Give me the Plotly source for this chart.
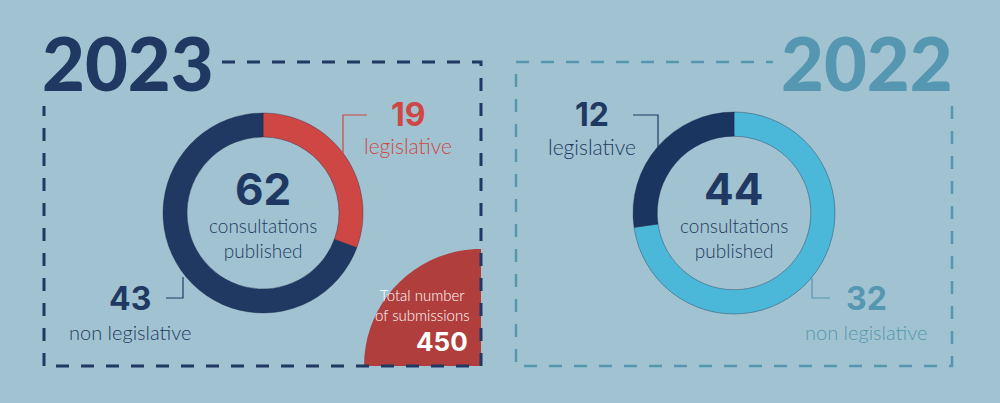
import plotly.graph_objects as go

# ---- data ----
years = ["2023", "2022"]
labels_2023 = ["legislative", "non legislative"]
values_2023 = [19, 43]
labels_2022 = ["non legislative", "legislative"]
values_2022 = [32, 12]
total_2023 = 62
total_2022 = 44
submissions_2023 = 450

# ---- style ----
BG = "#a1c3d1"
NAVY = "#1f3963"
RED = "#cf4745"
RED_DARK = "#b03e3c"
CYAN = "#4cb8d9"
STEEL = "#5596b1"
W, H = 1000, 403

fig = go.Figure()

def dom(cx, cy, r):
    return dict(x=[(cx - r) / W, (cx + r) / W], y=[(H - cy - r) / H, (H - cy + r) / H])

fig.add_trace(go.Pie(labels=labels_2023, values=values_2023, hole=0.76, sort=False,
                     direction="clockwise", rotation=0, textinfo="none", hoverinfo="label+value",
                     marker=dict(colors=[RED, NAVY], line=dict(color="rgba(20,30,60,0.35)", width=1)),
                     domain=dom(263, 213, 100), showlegend=False))
fig.add_trace(go.Pie(labels=labels_2022, values=values_2022, hole=0.76, sort=False,
                     direction="clockwise", rotation=0, textinfo="none", hoverinfo="label+value",
                     marker=dict(colors=[CYAN, "#1a3560"], line=dict(color="rgba(20,30,60,0.35)", width=1)),
                     domain=dom(734, 213, 101), showlegend=False))

shapes = []
# red quarter circle (submissions)
k = 0.5523
cx, cy, r = 481, 366, 117
shapes.append(dict(type="path", xref="x", yref="y", layer="below",
                   path=f"M {cx} {cy} L {cx-r} {cy} C {cx-r} {cy-k*r} {cx-k*r} {cy-r} {cx} {cy-r} Z",
                   fillcolor=RED_DARK, line=dict(width=0)))
# dashed frames
shapes.append(dict(type="path", xref="x", yref="y",
                   path="M 222 62 L 481 62 L 481 366 L 44 366 L 44 106",
                   line=dict(color=NAVY, width=3, dash="13px,12px")))
shapes.append(dict(type="path", xref="x", yref="y",
                   path="M 952 106 L 952 366 L 516 366 L 516 62 L 773 62",
                   line=dict(color=STEEL, width=2.5, dash="13px,12px")))
# connectors
shapes.append(dict(type="path", xref="x", yref="y", path="M 367 115 L 343 115 L 343 154",
                   line=dict(color=RED, width=1.2)))
shapes.append(dict(type="path", xref="x", yref="y", path="M 166 298 L 183 298 L 183 277",
                   line=dict(color=NAVY, width=1.2)))
shapes.append(dict(type="path", xref="x", yref="y", path="M 633 115 L 658 115 L 658 147",
                   line=dict(color=NAVY, width=1.2)))
shapes.append(dict(type="path", xref="x", yref="y", path="M 812 278 L 812 298 L 830 298",
                   line=dict(color=STEEL, width=1.2)))

BOLD = "Inter"
LIGHT = "Lato"

def ann(x, y, text, size, color, family, weight, xanchor="center"):
    return dict(x=x, y=y, xref="x", yref="y", text=text, showarrow=False,
                xanchor=xanchor, yanchor="middle",
                font=dict(size=size, color=color, family=family, weight=weight))

annotations = [
    ann(40, 62, years[0], 74, NAVY, "Lato", 900, "left"),
    ann(955, 62, years[1], 74, STEEL, "Lato", 900, "right"),
    # 2023 donut
    ann(263, 189, str(total_2023), 44, NAVY, BOLD, 700),
    ann(263, 238, "consultations<br>published", 19, NAVY, LIGHT, 300),
    ann(408, 114, str(values_2023[0]), 32, RED, BOLD, 700),
    ann(408, 145, labels_2023[0], 21, RED, LIGHT, 300),
    ann(130, 298, str(values_2023[1]), 32, NAVY, BOLD, 700),
    ann(130, 332, labels_2023[1], 20, NAVY, LIGHT, 300),
    ann(472, 305, "Total number<br>of submissions", 15, "white", LIGHT, 300, "right"),
    ann(470, 341, str(submissions_2023), 26, "white", BOLD, 700, "right"),
    # 2022 donut
    ann(734, 189, str(total_2022), 44, NAVY, BOLD, 700),
    ann(734, 238, "consultations<br>published", 19, NAVY, LIGHT, 300),
    ann(592, 114, str(values_2022[1]), 32, NAVY, BOLD, 700),
    ann(592, 146, labels_2022[1], 21, NAVY, LIGHT, 300),
    ann(866, 298, str(values_2022[0]), 32, STEEL, BOLD, 700),
    ann(866, 332, labels_2022[0], 20, STEEL, LIGHT, 300),
]

fig.update_layout(
    width=W, height=H, margin=dict(l=0, r=0, t=0, b=0),
    paper_bgcolor=BG, plot_bgcolor=BG,
    xaxis=dict(range=[0, W], visible=False, fixedrange=True),
    yaxis=dict(range=[H, 0], visible=False, fixedrange=True),
    shapes=shapes, annotations=annotations, showlegend=False,
)

fig.write_html("out.html")
